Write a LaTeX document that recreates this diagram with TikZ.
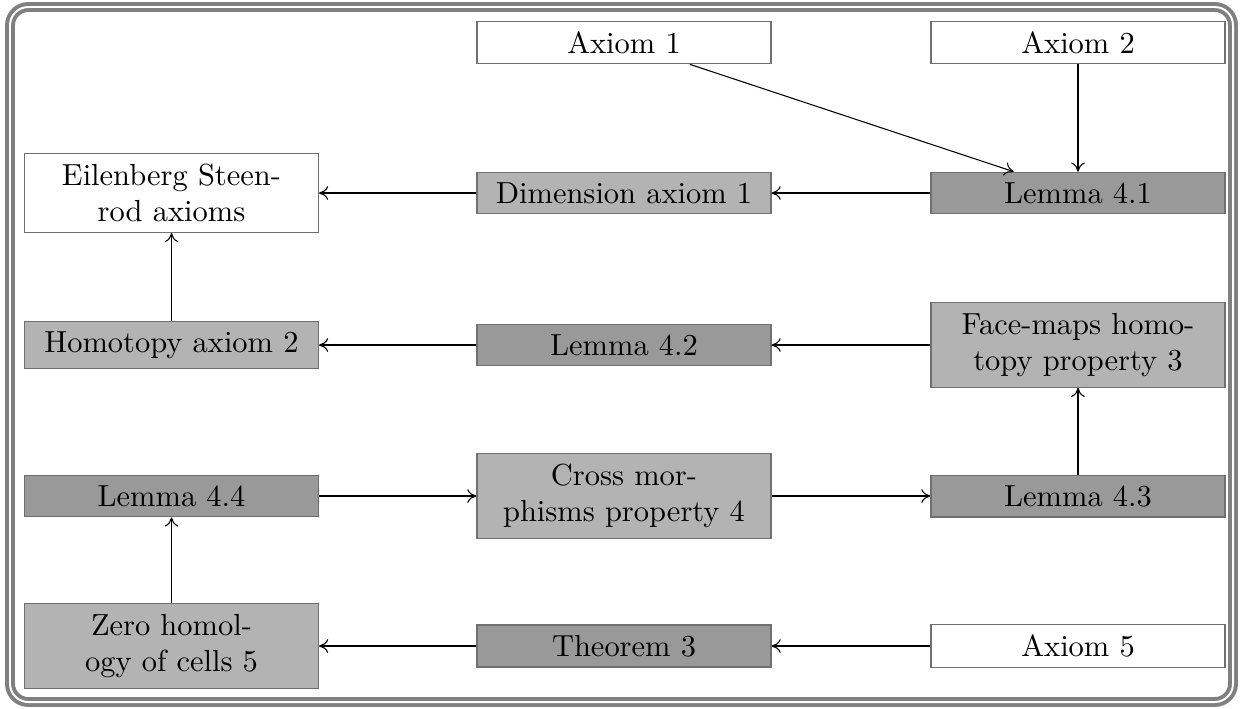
\documentclass[tikz,border=0pt]{standalone}
\usetikzlibrary{arrows.meta}
\definecolor{darkbox}{HTML}{999999}
\definecolor{lightbox}{HTML}{B3B3B3}
\definecolor{boxline}{HTML}{707070}
\tikzset{
  base/.style={draw=boxline, minimum width=96.4pt, minimum height=13.6pt, align=center, inner sep=3.33pt},
  whitebox/.style={base, fill=white},
  darkbox/.style={base, fill=darkbox},
  lightbox/.style={base, fill=lightbox},
  conn/.style={-{To[length=3pt,width=4.5pt]}, line width=0.35pt}
}
\begin{document}
\begin{tikzpicture}[x=0.328pt,y=-0.328pt]
\useasboundingbox (0,0) rectangle (1243,708);
\draw[gray, double=white, line width=1.3pt, double distance=0.65pt, rounded corners=6pt] (10,7) rectangle (1233,702);
% row 0
\node[whitebox] (a1) at (624,42.5) {Axiom 1};
\node[whitebox] (a2) at (1078,42.5) {Axiom 2};
% row 1
\node[whitebox] (es) at (171.5,193) {Eilenberg Steen-\\rod axioms};
\node[lightbox] (d1) at (624,193) {Dimension axiom 1};
\node[darkbox] (l41) at (1078,193) {Lemma 4.1};
% row 2
\node[lightbox] (h2) at (171.5,345) {Homotopy axiom 2};
\node[darkbox] (l42) at (624,345) {Lemma 4.2};
\node[lightbox] (fm) at (1078,345) {Face-maps homo-\\topy property 3};
% row 3
\node[darkbox] (l44) at (171.5,496) {Lemma 4.4};
\node[lightbox] (cm) at (624,496) {Cross mor-\\phisms property 4};
\node[darkbox] (l43) at (1078,496) {Lemma 4.3};
% row 4
\node[lightbox] (zh) at (171.5,646) {Zero homol-\\ogy of cells 5};
\node[darkbox] (t3) at (624,646) {Theorem 3};
\node[whitebox] (a5) at (1078,646) {Axiom 5};
% connectors
\draw[conn] (a1) -- (l41);
\draw[conn] (a2) -- (l41);
\draw[conn] (l41) -- (d1);
\draw[conn] (d1) -- (es);
\draw[conn] (h2) -- (es);
\draw[conn] (fm) -- (l42);
\draw[conn] (l42) -- (h2);
\draw[conn] (l43) -- (fm);
\draw[conn] (l44) -- (cm);
\draw[conn] (cm) -- (l43);
\draw[conn] (zh) -- (l44);
\draw[conn] (a5) -- (t3);
\draw[conn] (t3) -- (zh);
\end{tikzpicture}
\end{document}
